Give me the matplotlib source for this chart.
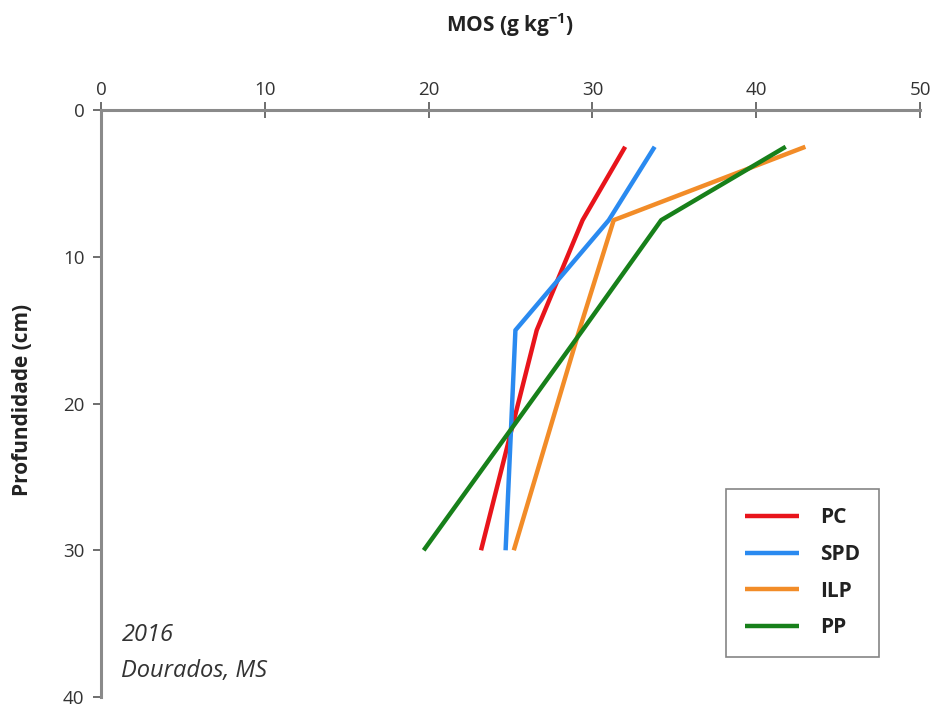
import matplotlib
matplotlib.use("Agg")
import matplotlib.pyplot as plt

depth = [2.5, 7.5, 15, 30]
pc = [32.0, 29.4, 26.6, 23.2]
spd = [33.8, 31.0, 25.3, 24.7]
ilp = [43.0, 31.3, 29.2, 25.2]
pp = [41.8, 34.2, 29.4, 19.7]
series = [("PC", pc, "#E8141B"), ("SPD", spd, "#2A8AF0"),
          ("ILP", ilp, "#F28C28"), ("PP", pp, "#17801A")]
xticks = [0, 10, 20, 30, 40, 50]
yticks = [0, 10, 20, 30, 40]

plt.rcParams['font.family'] = ['Open Sans', 'DejaVu Sans']

fig = plt.figure(figsize=(9.35, 7.08), dpi=100)
ax = fig.add_axes([0.108, 0.0155, 0.876, 0.829])

for name, vals, col in series:
    ax.plot(vals, depth, color=col, lw=3.2, label=name, solid_capstyle='butt')

ax.set_xlim(0, 50)
ax.set_ylim(40, 0)
ax.set_xticks(xticks)
ax.set_yticks(yticks)
ax.xaxis.tick_top()
ax.xaxis.set_label_position('top')
for s in ['right', 'bottom']:
    ax.spines[s].set_visible(False)
for s in ['top', 'left']:
    ax.spines[s].set_color('#8a8a8a')
    ax.spines[s].set_linewidth(2.2)
ax.tick_params(axis='x', direction='inout', length=12, width=1.2, color='#555555',
               labelsize=13.5, labelcolor='#333333', pad=2)
ax.tick_params(axis='y', direction='out', length=6, width=1.2, color='#555555',
               labelsize=13.5, labelcolor='#333333', pad=6)

fig.text(0.545, 0.965, r"MOS (g kg$^{\mathregular{-1}}$)", ha='center', va='center',
         fontsize=15, fontweight='bold', color='#222222')
fig.text(0.024, 0.435, "Profundidade (cm)", ha='center', va='center',
         rotation=90, fontsize=15, fontweight='bold', color='#222222')

ax.text(0.025, 0.105, "2016", transform=ax.transAxes, fontsize=17,
        style='italic', color='#333333', va='center')
ax.text(0.025, 0.045, "Dourados, MS", transform=ax.transAxes, fontsize=17,
        style='italic', color='#333333', va='center')

leg = ax.legend(loc='lower right', bbox_to_anchor=(0.95, 0.068), frameon=True,
                fancybox=False, edgecolor='#666666', fontsize=15,
                handlelength=2.6, labelspacing=0.75, borderpad=0.9,
                handletextpad=1.0, borderaxespad=0)
leg.get_frame().set_linewidth(1.2)
for t in leg.get_texts():
    t.set_fontweight('bold')
    t.set_color('#222222')

fig.savefig("out.png", dpi=100)
